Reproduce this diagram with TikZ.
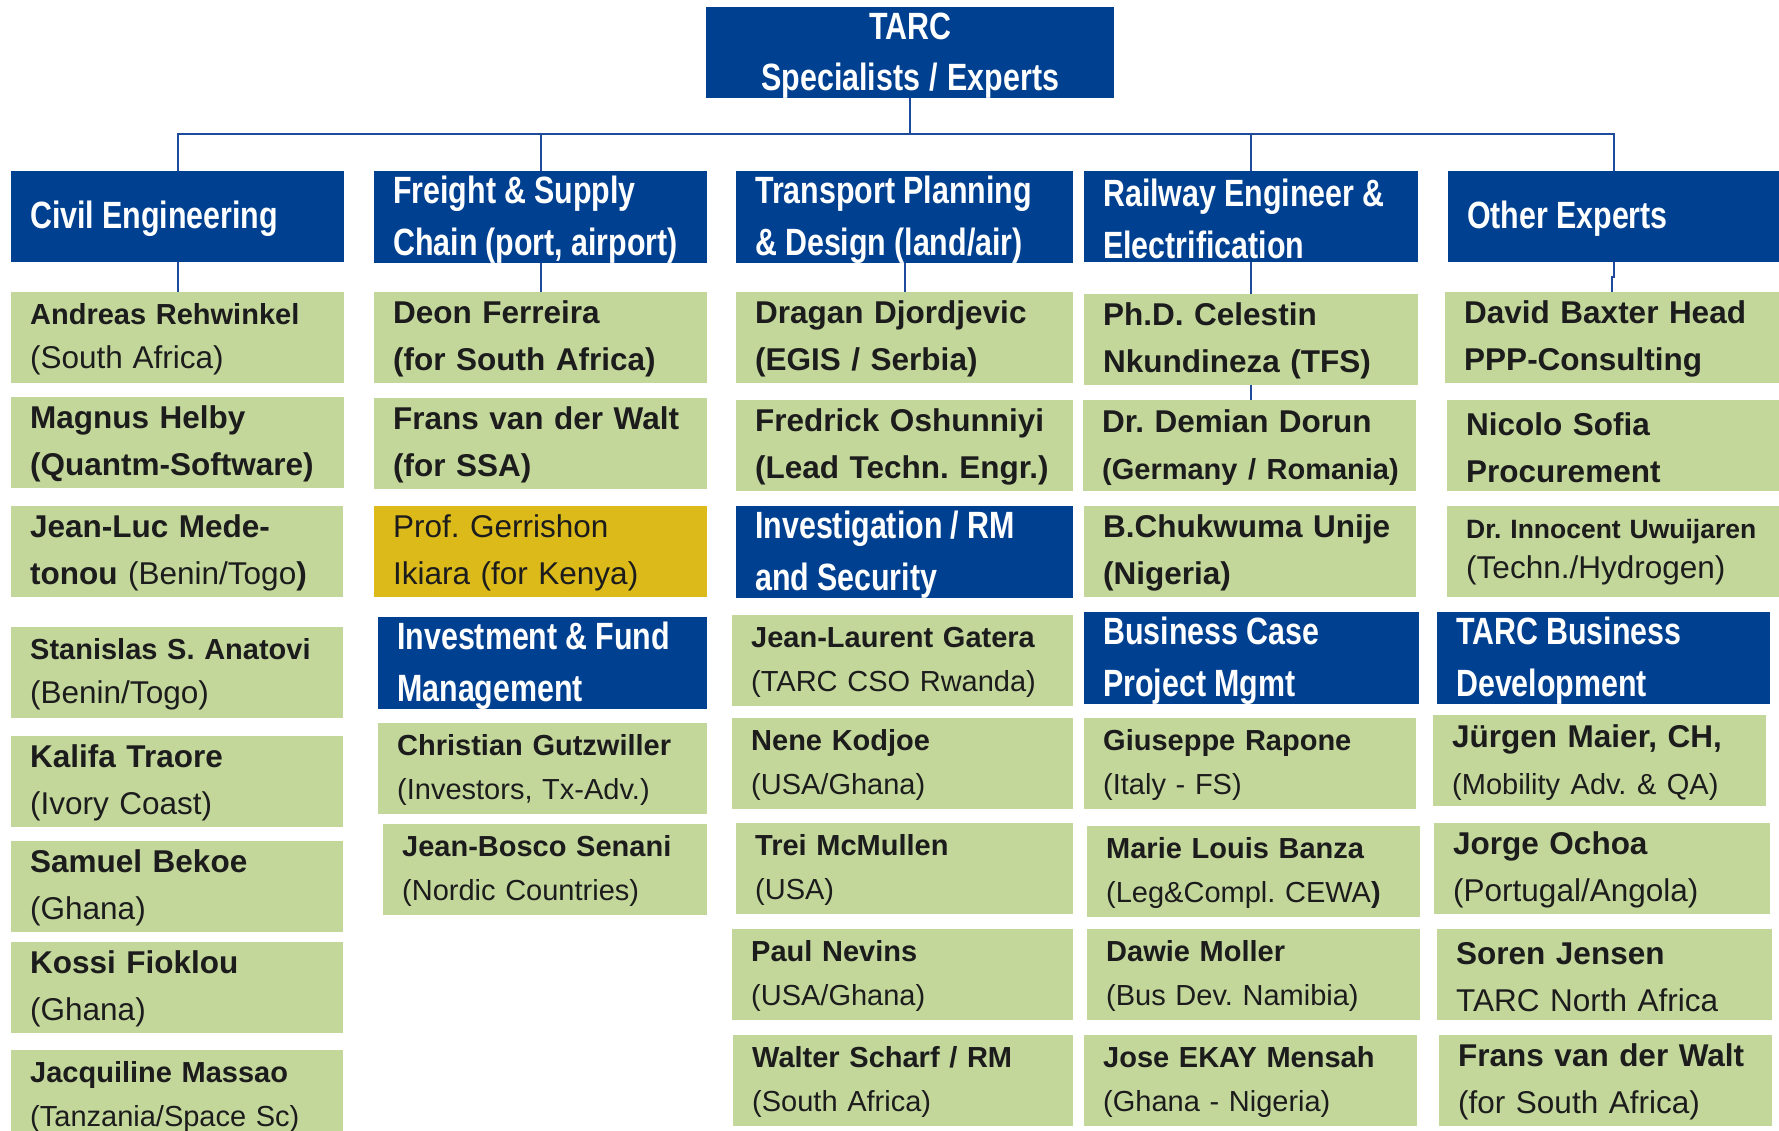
\documentclass[tikz,border=0pt]{standalone}
\usepackage{fontspec}
\setmainfont{Liberation Sans}
\newfontfamily\hdfont{Liberation Sans}[FakeStretch=0.8]
\usepackage{xcolor}
\definecolor{tarcblue}{RGB}{0,64,145}
\definecolor{namegreen}{RGB}{195,215,155}
\definecolor{profgold}{RGB}{219,186,26}
\definecolor{linkblue}{RGB}{30,75,155}
\definecolor{nametext}{RGB}{28,28,28}
\newcommand\bigfs{\fontsize{31.5}{47}\selectfont}
\newcommand\midfs{\fontsize{29}{44}\selectfont}
\newcommand\smallfs{\fontsize{26.5}{40}\selectfont}
\newcommand\hdfs{\hdfont\bfseries\fontsize{38}{52}\selectfont}
\newcommand\narrowgap{\spaceskip=8pt plus 2pt minus 1pt\relax}
\frenchspacing

\begin{document}
\begin{tikzpicture}[x=1pt,y=-1pt,
  bx/.style 2 args={minimum width=#1pt, minimum height=#2pt, text width=#1pt},
  cell/.style={anchor=north west, inner xsep=0pt, inner ysep=0pt, align=left, execute at begin node={\frenchspacing\leftskip=19pt}},
  hdr/.style={cell, fill=tarcblue, text=white, text height=32pt, font=\hdfs, execute at begin node=\narrowgap},
  topbox/.style={anchor=north west, inner sep=0pt, align=center, fill=tarcblue, text=white, text height=32pt, font=\hdfont\bfseries\fontsize{38}{51}\selectfont, execute at begin node=\narrowgap},
  person/.style={cell, fill=namegreen, text=nametext, text height=26pt, font=\bigfs},
  minor/.style={person, text height=24pt, font=\midfs},
  link/.style={draw=linkblue, line width=2pt}]
\useasboundingbox (0,0) rectangle (1779,1131);
\clip (0,0) rectangle (1779,1131);
% top of the tree
\node [topbox, bx={408}{91}] (tarc) at (706,7) {TARC\\Specialists / Experts};
% branch headers
\node [hdr, bx={333}{91}] (civil) at (11,171) {Civil Engineering};
\node [hdr, bx={333}{91}] (freight) at (374,171) {Freight \& Supply\\Chain (port, airport)};
\node [hdr, bx={337}{91}] (transp) at (736,171) {Transport Planning\\\& Design (land/air)};
\node [hdr, bx={334}{91}] (rail) at (1084,171) {Railway Engineer \&\\Electrification};
\node [hdr, bx={331}{91}] (other) at (1448,171) {Other Experts};
% civil engineering
\node [minor, bx={333}{91}] (andreas) at (11,292) {\textbf{Andreas Rehwinkel}\\{\bigfs (South Africa)}};
\node [person, bx={333}{91}] (magnus) at (11,397) {\textbf{Magnus Helby}\\\textbf{(Quantm-Software)}};
\node [person, bx={332}{91}] (jeanluc) at (11,506) {\textbf{Jean-Luc Mede-}\\\textbf{tonou} (Benin/Togo\textbf{)}};
\node [minor, bx={332}{91}] (stanislas) at (11,627) {\textbf{Stanislas S. Anatovi}\\{\bigfs (Benin/Togo)}};
\node [person, bx={332}{91}] (kalifa) at (11,736) {\textbf{Kalifa Traore}\\(Ivory Coast)};
\node [person, bx={332}{91}] (samuel) at (11,841) {\textbf{Samuel Bekoe}\\(Ghana)};
\node [person, bx={332}{91}] (kossi) at (11,942) {\textbf{Kossi Fioklou}\\(Ghana)};
\node [minor, bx={332}{91}] (jacq) at (11,1050) {\textbf{Jacquiline Massao}\\(Tanzania/Space Sc)};
% freight and supply chain
\node [person, bx={333}{91}] (deon) at (374,292) {\textbf{Deon Ferreira}\\\textbf{(for South Africa)}};
\node [person, bx={333}{91}] (frans) at (374,398) {\textbf{Frans van der Walt}\\\textbf{(for SSA)}};
\node [person, bx={333}{91}, fill=profgold] (gerrishon) at (374,506) {Prof. Gerrishon\\Ikiara (for Kenya)};
\node [hdr, bx={329}{91}] (invest) at (378,617) {Investment \& Fund\\Management};
\node [minor, bx={329}{91}] (christian) at (378,723) {\textbf{Christian Gutzwiller}\\(Investors, Tx-Adv.)};
\node [minor, bx={324}{91}] (bosco) at (383,824) {\textbf{Jean-Bosco Senani}\\(Nordic Countries)};
% transport planning
\node [person, bx={337}{91}] (dragan) at (736,292) {\textbf{Dragan Djordjevic}\\\textbf{(EGIS / Serbia)}};
\node [person, bx={337}{91}] (fredrick) at (736,400) {\textbf{Fredrick Oshunniyi}\\\textbf{(Lead Techn. Engr.)}};
\node [hdr, bx={337}{91}] (investig) at (736,506) {Investigation / RM\\and Security};
\node [minor, bx={341}{91}] (gatera) at (732,615) {\textbf{Jean-Laurent Gatera}\\(TARC CSO Rwanda)};
\node [minor, bx={341}{91}] (kodjoe) at (732,718) {\textbf{Nene Kodjoe}\\(USA/Ghana)};
\node [minor, bx={337}{91}] (mcmullen) at (736,823) {\textbf{Trei McMullen}\\(USA)};
\node [minor, bx={341}{91}] (nevins) at (732,929) {\textbf{Paul Nevins}\\(USA/Ghana)};
\node [minor, bx={340}{91}] (scharf) at (733,1035) {\textbf{Walter Scharf / RM}\\(South Africa)};
% railway
\node [person, bx={334}{91}] (celestin) at (1084,294) {\textbf{Ph.D. Celestin}\\\textbf{Nkundineza (TFS)}};
\node [person, bx={333}{91}] (dorun) at (1083,400) {\textbf{Dr. Demian Dorun}\\{\midfs\bfseries (Germany / Romania)}};
\node [person, bx={332}{91}] (unije) at (1084,506) {\textbf{B.Chukwuma Unije}\\\textbf{(Nigeria)}};
\node [hdr, bx={335}{91}] (bcase) at (1084,612) {Business Case\\Project Mgmt};
\node [minor, bx={332}{91}] (rapone) at (1084,718) {\textbf{Giuseppe Rapone}\\(Italy - FS)};
\node [minor, bx={333}{91}] (banza) at (1087,826) {\textbf{Marie Louis Banza}\\(Leg\&Compl. CEWA\textbf{)}};
\node [minor, bx={333}{91}] (moller) at (1087,929) {\textbf{Dawie Moller}\\(Bus Dev. Namibia)};
\node [minor, bx={333}{91}] (mensah) at (1084,1035) {\textbf{Jose EKAY Mensah}\\(Ghana - Nigeria)};
% other experts
\node [person, bx={334}{91}] (baxter) at (1445,292) {\textbf{David Baxter Head}\\\textbf{PPP-Consulting}};
\node [person, bx={332}{91}] (sofia) at (1447,400) {\textbf{Nicolo Sofia}\\\textbf{Procurement}};
\node [person, bx={332}{91}, text height=21pt, font=\smallfs] (uwuijaren) at (1447,506) {\textbf{Dr. Innocent Uwuijaren}\\{\bigfs (Techn./Hydrogen)}};
\node [hdr, bx={333}{91}] (tarcbd) at (1437,612) {TARC Business\\Development};
\node [person, bx={333}{91}] (maier) at (1433,715) {\textbf{Jürgen Maier, CH,}\\{\midfs (Mobility Adv. \& QA)}};
\node [person, bx={336}{91}] (ochoa) at (1434,823) {\textbf{Jorge Ochoa}\\(Portugal/Angola)};
\node [person, bx={335}{91}] (jensen) at (1437,929) {\textbf{Soren Jensen}\\TARC North Africa};
\node [person, bx={333}{91}] (walt) at (1439,1035) {\textbf{Frans van der Walt}\\(for South Africa)};
% connectors
\draw [link] (tarc.south) -- ++(0,36);
\draw [link] (civil.north) -- ++(0,-37) -| (other.north);
\draw [link] (freight.north) -- ++(0,-37);
\draw [link] (rail.north) -- ++(0,-37);
\draw [link] (civil.south) -- (andreas.north);
\draw [link] (freight.south) -- (deon.north);
\draw [link] (transp.south) -- (dragan.north);
\draw [link] (rail.south) -- (celestin.north);
\draw [link] (celestin.south) -- (celestin.south |- dorun.north);
\draw [link] (other.south) -- ++(0,15) -| (baxter.north);
\end{tikzpicture}
\end{document}
